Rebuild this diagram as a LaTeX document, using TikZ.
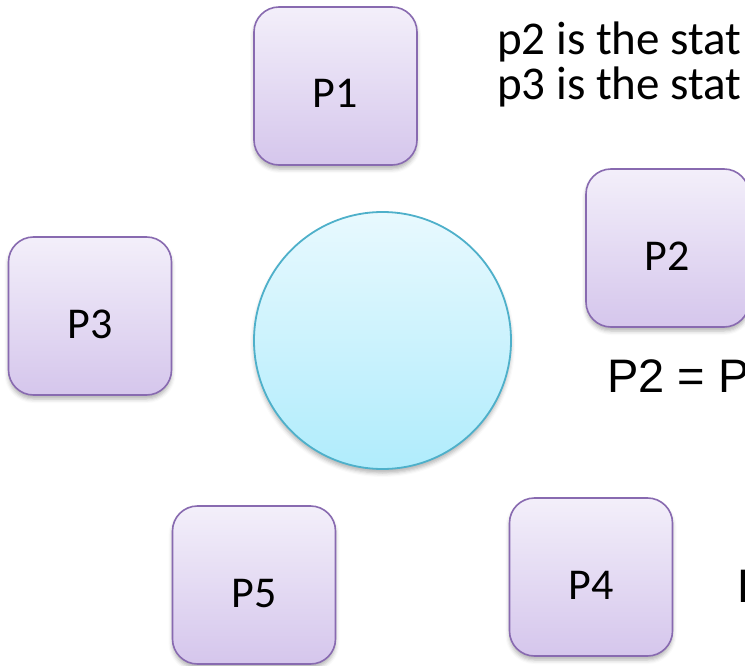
\documentclass[tikz,border=0pt]{standalone}
\usepackage{fontspec}
\setmainfont{Carlito}
\newfontfamily\arialfont{Liberation Sans}
\usetikzlibrary{shadows.blur}

\definecolor{procline}{RGB}{136,106,176}
\definecolor{proctop}{RGB}{243,239,250}
\definecolor{procbot}{RGB}{213,198,236}
\definecolor{poolline}{RGB}{78,176,202}
\definecolor{pooltop}{RGB}{232,249,254}
\definecolor{poolbot}{RGB}{176,236,252}

\begin{document}
\begin{tikzpicture}[x=1pt,y=-1pt]
       \tikzstyle{proc}=[draw=procline, line width=1.6pt, rounded corners=25pt,
                         top color=proctop, bottom color=procbot,
                         minimum width=163pt, minimum height=158pt, inner sep=0pt,
                         text height=44pt, text depth=0pt,
                         font=\fontsize{44pt}{52pt}\selectfont,
                         blur shadow={shadow xshift=0pt, shadow yshift=-4pt,
                                      shadow blur radius=4pt, shadow opacity=30}]
       \tikzstyle{pool}=[circle, draw=poolline, line width=1.8pt,
                         top color=pooltop, bottom color=poolbot,
                         minimum size=257pt, inner sep=0pt,
                         blur shadow={shadow xshift=0pt, shadow yshift=-4pt,
                                      shadow blur radius=4pt, shadow opacity=30}]
       \tikzstyle{note}=[anchor=base west, inner sep=0pt,
                         font=\fontsize{47pt}{54pt}\selectfont]
       \tikzstyle{eqn}=[anchor=base west, inner sep=0pt,
                        font=\arialfont\fontsize{47pt}{54pt}\selectfont]

       \useasboundingbox (0,0) rectangle (745,666);

       \node[pool] (pool) at (382.5,340.5) {};

       \node[proc] (p_1) at (335.5,86)  {P1};
       \node[proc] (p_2) at (667.5,248) {P2};
       \node[proc] (p_3) at (90,316)    {P3};
       \node[proc] (p_4) at (591,577)   {P4};
       \node[proc] (p_5) at (254,585)   {P5};

       \node[note] (line_2) at (497,55)  {p2 is the stat};
       \node[note] (line_3) at (497,100) {p3 is the stat};

       \node[eqn] (eq_2) at (607,392) {P2 = P};
       \node[eqn] (eq_4) at (737,602) {P};
\end{tikzpicture}
\end{document}
